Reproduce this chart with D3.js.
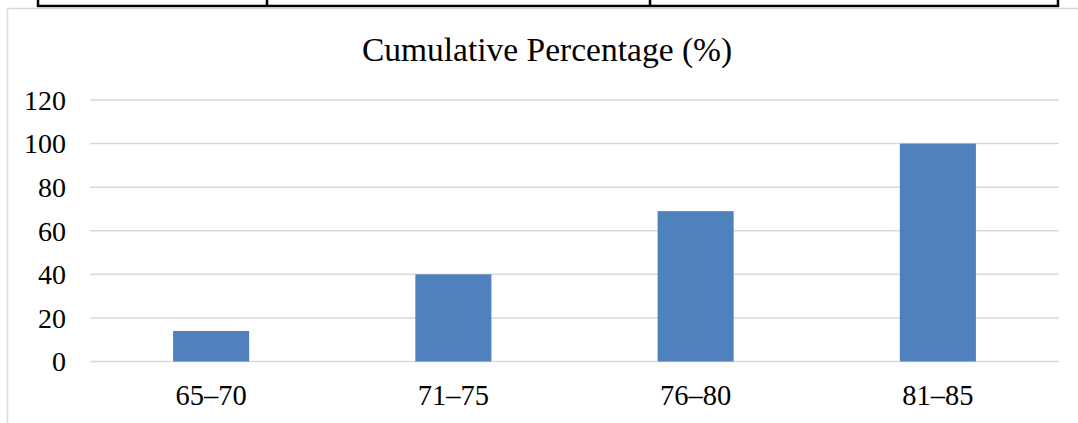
<!DOCTYPE html>
<html>
<head>
<meta charset="utf-8">
<script src="https://cdn.jsdelivr.net/npm/d3@7"></script>
<style>
  body { margin: 0; background: #fff; }
</style>
</head>
<body>
<div id="chart"></div>
<script>
// chart data
var categories = ["65–70", "71–75", "76–80", "81–85"];
var values = [14, 40, 69, 100];
var yTicks = [0, 20, 40, 60, 80, 100, 120];
var title = "Cumulative Percentage (%)";

(function(){
  var width = 1078, height = 423;
  var serif = "'Liberation Serif', 'Times New Roman', Tinos, 'DejaVu Serif', serif";

  var svg = d3.select("#chart")
    .append("svg")
      .attr("width", width)
      .attr("height", height)
      .attr("font-family", serif);

  // bit of the table above the chart (cut off by the page)
  var tableCols = [38, 267, 650, 1058];
  svg.selectAll("line.tcol")
    .data(tableCols)
    .enter()
    .append("line")
      .attr("x1", function(d){ return d; })
      .attr("x2", function(d){ return d; })
      .attr("y1", 0)
      .attr("y2", 7)
      .style("stroke", "black")
      .style("stroke-width", 2.5);
  svg.append("line")
    .attr("x1", 37).attr("x2", 1059)
    .attr("y1", 6).attr("y2", 6)
    .style("stroke", "black")
    .style("stroke-width", 2.5);

  // chart frame
  svg.append("rect")
    .attr("x", 7.5).attr("y", 8.5)
    .attr("width", 1100).attr("height", 500)
    .style("fill", "none")
    .style("stroke", "#d9d9d9")
    .style("stroke-width", 1.5);

  var x = d3.scaleBand()
    .domain(categories)
    .range([90, 1059])
    .paddingInner(0.686)
    .paddingOuter(0.343);

  var y = d3.scaleLinear()
    .domain([0, 120])
    .range([361.5, 100]);

  // gridlines
  svg.selectAll("line.grid")
    .data(yTicks)
    .enter()
    .append("line")
      .attr("x1", 90)
      .attr("x2", 1059)
      .attr("y1", function(d){ return y(d); })
      .attr("y2", function(d){ return y(d); })
      .style("stroke", "#d9d9d9")
      .style("stroke-width", 1.5);

  // y tick labels
  svg.selectAll("text.ytick")
    .data(yTicks)
    .enter()
    .append("text")
      .attr("x", 66)
      .attr("y", function(d){ return y(d); })
      .attr("dy", "0.35em")
      .attr("text-anchor", "end")
      .attr("font-size", "28px")
      .text(function(d){ return d; });

  // bars
  svg.selectAll("rect.bar")
    .data(values)
    .enter()
    .append("rect")
      .attr("x", function(d, i){ return x(categories[i]); })
      .attr("y", function(d){ return y(d); })
      .attr("width", x.bandwidth())
      .attr("height", function(d){ return y(0) - y(d); })
      .style("fill", "#4f81bd");

  // category labels
  svg.selectAll("text.xtick")
    .data(categories)
    .enter()
    .append("text")
      .attr("x", function(d){ return x(d) + x.bandwidth() / 2; })
      .attr("y", 405)
      .attr("text-anchor", "middle")
      .attr("font-size", "28.5px")
      .text(function(d){ return d; });

  // title
  svg.append("text")
    .attr("x", 547)
    .attr("y", 61)
    .attr("text-anchor", "middle")
    .attr("font-size", "33.5px")
    .text(title);
})();
</script>
</body>
</html>
